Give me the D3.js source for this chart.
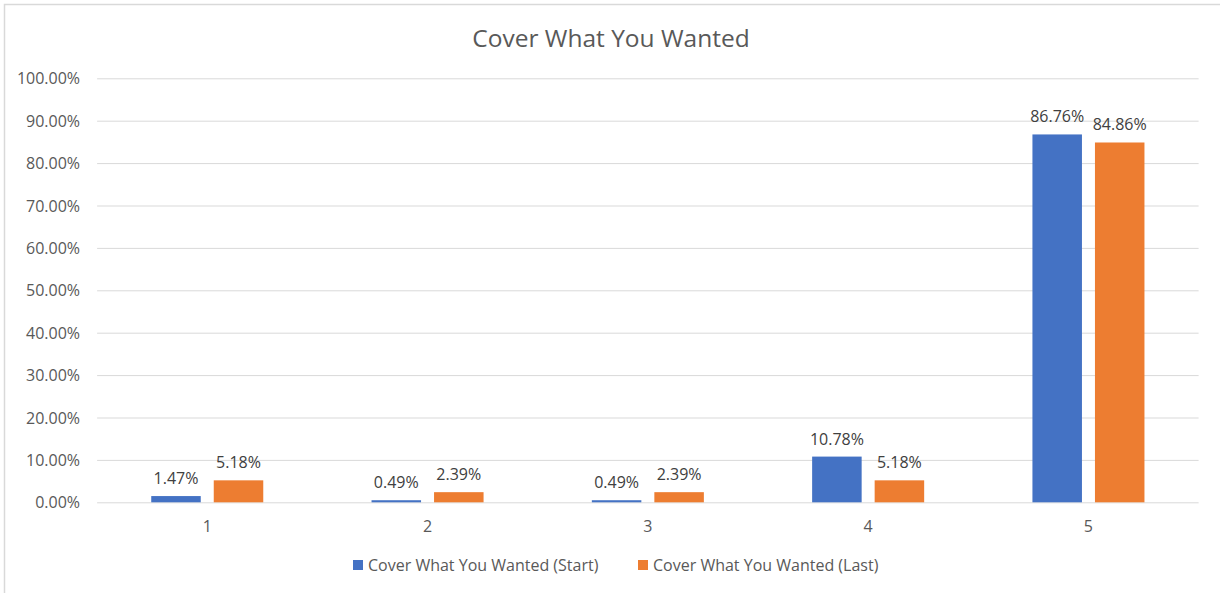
<!DOCTYPE html>
<html>
<head>
<meta charset="utf-8">
<script src="https://cdn.jsdelivr.net/npm/d3@7"></script>
<style>
  body { margin: 0; background: #fff; }
  svg text { font-family: "Open Sans", sans-serif; fill: #595959; }
</style>
</head>
<body>
<div id="chart"></div>
<script>
const categories = ["1", "2", "3", "4", "5"];
const seriesNames = ["Cover What You Wanted (Start)", "Cover What You Wanted (Last)"];
const startValues = [1.47, 0.49, 0.49, 10.78, 86.76];
const lastValues = [5.18, 2.39, 2.39, 5.18, 84.86];
const yTicks = [0, 10, 20, 30, 40, 50, 60, 70, 80, 90, 100];
const colors = ["#4472C4", "#ED7D31"];

const W = 1220, H = 593;
const svg = d3.select("#chart").append("svg")
  .attr("width", W).attr("height", H);

// chart frame
svg.append("rect")
  .attr("x", 4.5).attr("y", 4.5)
  .attr("width", W + 10).attr("height", H + 10)
  .attr("fill", "none").attr("stroke", "#d9d9d9").attr("stroke-width", 1.5);

const x0 = d3.scaleBand().domain(categories).range([97.1, 1198.6]);
const x1 = d3.scaleBand().domain(seriesNames)
  .range([0, x0.bandwidth()])
  .paddingInner(0.208).paddingOuter(0.866);
const y = d3.scaleLinear().domain([0, 100]).range([502.3, 78.3]);

// gridlines + y labels
const yAxis = d3.axisLeft(y)
  .tickValues(yTicks)
  .tickSize(-(x0.range()[1] - x0.range()[0]))
  .tickPadding(17)
  .tickFormat(d => d.toFixed(2) + "%");

const gy = svg.append("g")
  .attr("transform", `translate(${x0.range()[0]},0)`)
  .call(yAxis);
gy.select(".domain").remove();
gy.selectAll(".tick line").attr("stroke", "#d9d9d9").attr("stroke-width", 1);
gy.selectAll(".tick text").style("font-size", "16px").attr("dy", "0.35em");

// x labels
const xAxis = d3.axisBottom(x0).tickSize(0).tickPadding(18);
const gx = svg.append("g")
  .attr("transform", `translate(0,${y(0)})`)
  .call(xAxis);
gx.select(".domain").remove();
gx.selectAll(".tick text").style("font-size", "16px");

const rows = categories.map((c, i) => ({
  cat: c,
  vals: [startValues[i], lastValues[i]].map((v, j) => ({ key: seriesNames[j], v: v, j: j }))
}));

const groups = svg.append("g").selectAll("g")
  .data(rows).enter().append("g")
  .attr("transform", d => `translate(${x0(d.cat)},0)`);

groups.selectAll("rect")
  .data(d => d.vals).enter().append("rect")
  .attr("x", d => x1(d.key))
  .attr("width", x1.bandwidth())
  .attr("y", d => y(d.v))
  .attr("height", d => y(0) - y(d.v))
  .attr("fill", d => colors[d.j]);

groups.selectAll("text")
  .data(d => d.vals).enter().append("text")
  .attr("x", d => x1(d.key) + x1.bandwidth() / 2)
  .attr("y", d => y(d.v) - 12)
  .attr("text-anchor", "middle")
  .style("font-size", "16px")
  .style("fill", "#404040")
  .text(d => d.v.toFixed(2) + "%");

// title
svg.append("text")
  .attr("x", 611).attr("y", 46.5)
  .attr("text-anchor", "middle")
  .style("font-size", "24.5px")
  .text("Cover What You Wanted");

// legend
const legendX = [353, 638];
const leg = svg.append("g").selectAll("g")
  .data(seriesNames).enter().append("g")
  .attr("transform", (d, i) => `translate(${legendX[i]},560)`);
leg.append("rect").attr("width", 10).attr("height", 10)
  .attr("fill", (d, i) => colors[i]);
leg.append("text").attr("x", 15).attr("y", 10.5)
  .style("font-size", "16px")
  .text(d => d);
</script>
</body>
</html>
